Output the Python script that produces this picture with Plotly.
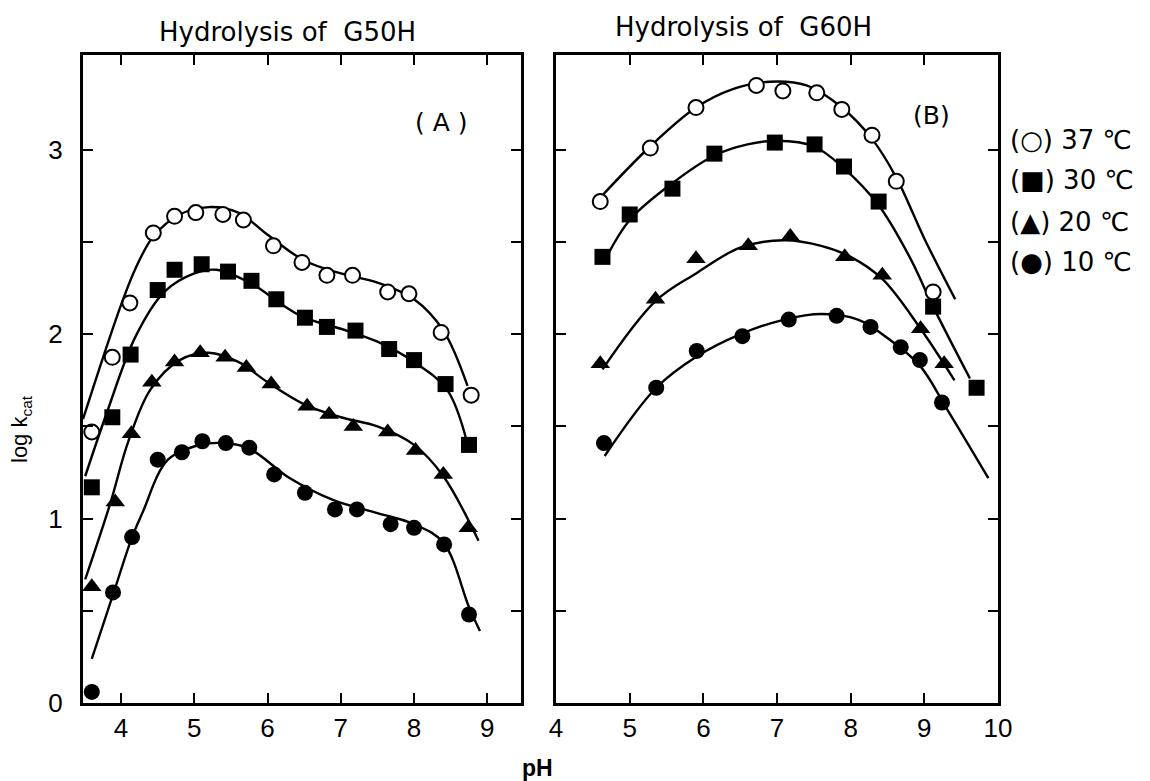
import plotly.graph_objects as go

# ---------------- Data ----------------
# Panel A: Hydrolysis of G50H
a37_x = [3.60, 3.88, 4.12, 4.44, 4.73, 5.02, 5.39, 5.67, 6.08, 6.47, 6.81, 7.16, 7.64, 7.93, 8.37, 8.78]
a37_y = [1.47, 1.875, 2.17, 2.55, 2.64, 2.66, 2.65, 2.62, 2.48, 2.39, 2.32, 2.32, 2.23, 2.22, 2.01, 1.67]
a30_x = [3.60, 3.88, 4.13, 4.50, 4.73, 5.10, 5.46, 5.78, 6.12, 6.51, 6.81, 7.20, 7.66, 8.00, 8.43, 8.75]
a30_y = [1.17, 1.55, 1.89, 2.24, 2.35, 2.38, 2.34, 2.29, 2.19, 2.09, 2.04, 2.02, 1.92, 1.86, 1.73, 1.40]
a20_x = [3.60, 3.92, 4.14, 4.42, 4.73, 5.08, 5.42, 5.71, 6.05, 6.54, 6.84, 7.17, 7.64, 8.02, 8.40, 8.74]
a20_y = [0.63, 1.09, 1.46, 1.74, 1.85, 1.90, 1.875, 1.82, 1.73, 1.61, 1.565, 1.50, 1.47, 1.37, 1.24, 0.95]
a10_x = [3.60, 3.89, 4.15, 4.50, 4.83, 5.11, 5.43, 5.75, 6.09, 6.51, 6.92, 7.22, 7.68, 8.00, 8.41, 8.75]
a10_y = [0.06, 0.60, 0.90, 1.32, 1.36, 1.42, 1.41, 1.385, 1.24, 1.14, 1.05, 1.05, 0.97, 0.95, 0.86, 0.48]

# fitted curves, panel A
fa37_x = [3.48, 3.75, 4.00, 4.20, 4.44, 4.80, 5.20, 5.60, 6.00, 6.50, 7.00, 7.50, 8.00, 8.40, 8.73]
fa37_y = [1.54, 1.87, 2.16, 2.36, 2.53, 2.65, 2.69, 2.66, 2.54, 2.40, 2.33, 2.28, 2.19, 2.02, 1.72]
fa30_x = [3.51, 3.81, 4.20, 4.59, 5.00, 5.30, 5.80, 6.20, 6.50, 7.00, 7.50, 8.00, 8.45, 8.72]
fa30_y = [1.23, 1.58, 1.99, 2.23, 2.33, 2.35, 2.27, 2.16, 2.09, 2.03, 1.96, 1.85, 1.70, 1.42]
fa20_x = [3.51, 3.85, 4.10, 4.40, 4.80, 5.20, 5.60, 6.00, 6.50, 7.00, 7.50, 8.00, 8.40, 8.88]
fa20_y = [0.67, 1.08, 1.42, 1.70, 1.86, 1.90, 1.85, 1.74, 1.62, 1.55, 1.50, 1.40, 1.23, 0.88]
fa10_x = [3.60, 3.90, 4.15, 4.29, 4.64, 5.08, 5.40, 5.75, 6.30, 6.90, 7.50, 8.00, 8.40, 8.75, 8.90]
fa10_y = [0.24, 0.60, 0.90, 1.03, 1.32, 1.40, 1.41, 1.38, 1.22, 1.10, 1.03, 0.97, 0.87, 0.52, 0.39]

# Panel B: Hydrolysis of G60H
b37_x = [4.60, 5.28, 5.90, 6.72, 7.08, 7.54, 7.88, 8.29, 8.62, 9.12]
b37_y = [2.72, 3.01, 3.23, 3.35, 3.32, 3.31, 3.22, 3.08, 2.83, 2.23]
b30_x = [4.63, 5.00, 5.58, 6.15, 6.97, 7.51, 7.91, 8.38, 9.12, 9.71]
b30_y = [2.42, 2.65, 2.79, 2.98, 3.04, 3.03, 2.91, 2.72, 2.15, 1.71]
b20_x = [4.60, 5.35, 5.90, 6.61, 7.18, 7.92, 8.43, 8.95, 9.27]
b20_y = [1.84, 2.19, 2.41, 2.48, 2.53, 2.42, 2.32, 2.03, 1.84]
b10_x = [4.65, 5.36, 5.91, 6.53, 7.16, 7.81, 8.27, 8.68, 8.94, 9.24]
b10_y = [1.41, 1.71, 1.91, 1.99, 2.08, 2.10, 2.04, 1.93, 1.86, 1.63]

# fitted curves, panel B
fb37_x = [4.62, 5.28, 5.90, 6.40, 6.90, 7.40, 7.88, 8.29, 8.62, 9.00, 9.42]
fb37_y = [2.75, 3.02, 3.23, 3.33, 3.37, 3.35, 3.23, 3.06, 2.85, 2.52, 2.19]
fb30_x = [4.66, 5.00, 5.58, 6.15, 6.60, 7.00, 7.50, 7.91, 8.38, 8.80, 9.12, 9.62]
fb30_y = [2.40, 2.62, 2.82, 2.97, 3.03, 3.05, 3.02, 2.90, 2.70, 2.42, 2.15, 1.76]
fb20_x = [4.63, 5.35, 5.90, 6.50, 7.10, 7.60, 8.00, 8.43, 8.95, 9.41]
fb20_y = [1.81, 2.18, 2.33, 2.47, 2.51, 2.48, 2.42, 2.30, 2.03, 1.75]
fb10_x = [4.66, 5.36, 5.91, 6.50, 7.10, 7.60, 8.10, 8.50, 8.94, 9.30, 9.87]
fb10_y = [1.34, 1.71, 1.88, 2.00, 2.08, 2.11, 2.08, 1.98, 1.83, 1.60, 1.22]

legend_labels = ["(○) 37 ℃", "(■) 30 ℃", "(▲) 20 ℃", "(●) 10 ℃"]
titles = ["Hydrolysis of  G50H", "Hydrolysis of  G60H"]
panel_tags = ["( A )", "(B)"]

y_major = [0, 1, 2, 3]
y_minor = [0.5, 1.5, 2.5]
xa_ticks = [4, 5, 6, 7, 8, 9]
xb_ticks = [4, 5, 6, 7, 8, 9, 10]

# ---------------- Figure ----------------
FONT = "Liberation Sans, Arial, sans-serif"
WIDE = "DejaVu Sans, sans-serif"
W, H = 1150, 781
fig = go.Figure()

styles = {
    "37": dict(symbol="circle", size=15, color="white", line=dict(color="black", width=2)),
    "30": dict(symbol="square", size=16, color="black", line=dict(color="black", width=0)),
    "20": dict(symbol="triangle-up", size=17, color="black", line=dict(color="black", width=0)),
    "10": dict(symbol="circle", size=16, color="black", line=dict(color="black", width=0)),
}

def add_curve(x, y, xa, ya):
    fig.add_trace(go.Scatter(x=x, y=y, mode="lines", xaxis=xa, yaxis=ya,
                             line=dict(color="black", width=2.4, shape="spline", smoothing=1.0),
                             hoverinfo="skip", showlegend=False))

def add_pts(x, y, key, xa, ya):
    fig.add_trace(go.Scatter(x=x, y=y, mode="markers", xaxis=xa, yaxis=ya,
                             marker=styles[key], showlegend=False))

for fx, fy in [(fa37_x, fa37_y), (fa30_x, fa30_y), (fa20_x, fa20_y), (fa10_x, fa10_y)]:
    add_curve(fx, fy, "x", "y")
for fx, fy in [(fb37_x, fb37_y), (fb30_x, fb30_y), (fb20_x, fb20_y), (fb10_x, fb10_y)]:
    add_curve(fx, fy, "x2", "y2")

add_pts(a37_x, a37_y, "37", "x", "y")
add_pts(a30_x, a30_y, "30", "x", "y")
add_pts(a20_x, a20_y, "20", "x", "y")
add_pts(a10_x, a10_y, "10", "x", "y")
add_pts(b37_x, b37_y, "37", "x2", "y2")
add_pts(b30_x, b30_y, "30", "x2", "y2")
add_pts(b20_x, b20_y, "20", "x2", "y2")
add_pts(b10_x, b10_y, "10", "x2", "y2")

def px(v):
    return v / W

def py(v):
    return 1 - v / H

axis_common = dict(showline=True, linecolor="black", linewidth=3, mirror="ticks",
                   ticks="inside", ticklen=10, tickwidth=2, tickcolor="black",
                   showgrid=False, zeroline=False, automargin=False,
                   tickfont=dict(family=FONT, size=26, color="black"))
minor_y = dict(tickmode="array", tickvals=y_minor, ticks="inside", ticklen=10,
               tickwidth=2, tickcolor="black", showgrid=False)

y_dom = [py(703), py(55)]
fig.update_layout(
    width=W, height=H,
    margin=dict(l=0, r=0, t=0, b=0),
    paper_bgcolor="white", plot_bgcolor="white",
    showlegend=False,
    xaxis=dict(domain=[px(83), px(521)], range=[3.48, 9.46], anchor="y",
               tickmode="array", tickvals=xa_ticks, ticktext=[str(v) for v in xa_ticks],
               **axis_common),
    yaxis=dict(domain=y_dom, range=[0, 3.515], anchor="x", ticklabelstandoff=12,
               tickmode="array", tickvals=y_major, ticktext=[str(v) for v in y_major],
               minor=minor_y, **axis_common),
    xaxis2=dict(domain=[px(556), px(998)], range=[3.999, 10.001], anchor="y2",
                tickmode="array", tickvals=xb_ticks, ticktext=[str(v) for v in xb_ticks],
                **axis_common),
    yaxis2=dict(domain=y_dom, range=[0, 3.515], anchor="x2", showticklabels=False,
                tickmode="array", tickvals=y_major, minor=minor_y, **axis_common),
)

ann = []
ann.append(dict(x=px(287), y=py(32), text=titles[0], font=dict(family=WIDE, size=26, color="black")))
ann.append(dict(x=px(743), y=py(27), text=titles[1], font=dict(family=WIDE, size=26, color="black")))
ann.append(dict(x=px(441), y=py(123), text=panel_tags[0], font=dict(family=WIDE, size=25, color="black")))
ann.append(dict(x=px(931), y=py(115), text=panel_tags[1], font=dict(family=WIDE, size=25, color="black")))
for lbl, yy in zip(legend_labels, [140, 180, 222, 262]):
    ann.append(dict(x=px(1008), y=py(yy), text=lbl, xanchor="left",
                    font=dict(family=WIDE, size=26, color="black")))
ann.append(dict(x=px(537), y=py(768), text="<b>pH</b>", font=dict(family=FONT, size=23, color="black")))
ann.append(dict(x=px(21), y=py(429), text="log k<sub>cat</sub>", textangle=-90,
                font=dict(family=FONT, size=22, color="black")))
for a in ann:
    a.setdefault("xanchor", "center")
    a.update(xref="paper", yref="paper", yanchor="middle", showarrow=False)
fig.update_layout(annotations=ann)

fig.write_html("out.html")
